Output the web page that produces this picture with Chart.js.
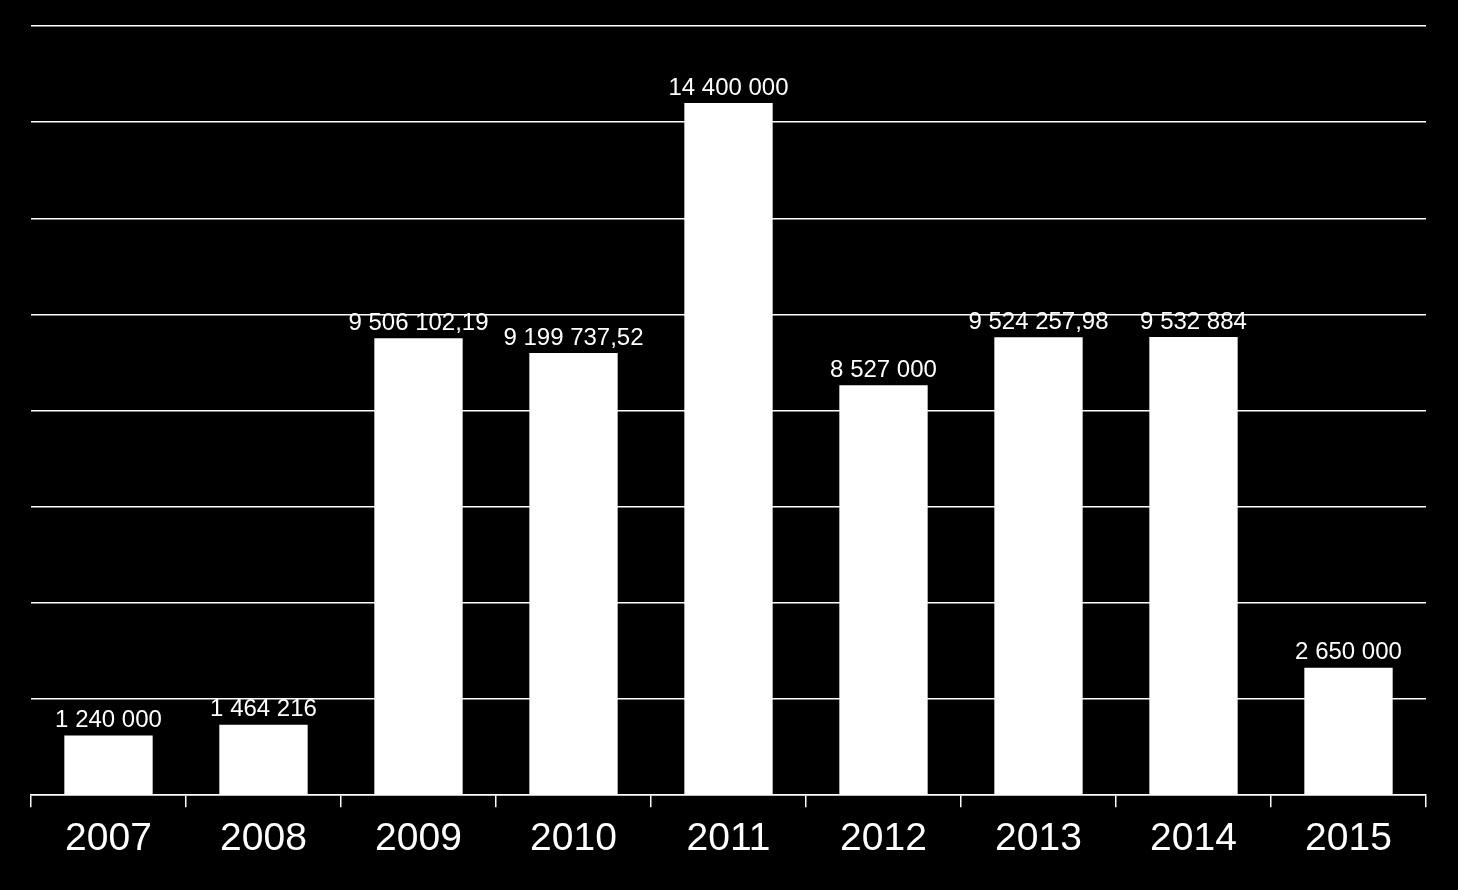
<!DOCTYPE html>
<html>
<head>
<meta charset="utf-8">
<script src="https://cdn.jsdelivr.net/npm/chart.js@4"></script>
<style>
  html, body { margin: 0; padding: 0; background: #000; }
  #wrap { width: 1458px; height: 890px; }
</style>
</head>
<body>
<div id="wrap"><canvas id="barChart" width="1458" height="890"></canvas></div>
<script>
const years = ['2007', '2008', '2009', '2010', '2011', '2012', '2013', '2014', '2015'];
const amounts = [1240000, 1464216, 9506102.19, 9199737.52, 14400000, 8527000, 9524257.98, 9532884, 2650000];
const yMax = 16000000;
const yStep = 2000000;

// 9506102.19 -> "9 506 102,19"
function fmt(v) {
  const parts = v.toFixed(2).split('.');
  const int = parts[0].replace(/\B(?=(\d{3})+(?!\d))/g, ' ');
  return parts[1] === '00' ? int : int + ',' + parts[1];
}

const valueLabels = {
  id: 'valueLabels',
  afterDatasetsDraw(chart) {
    const c = chart.ctx;
    c.save();
    c.fillStyle = '#fff';
    c.font = '24px "Liberation Sans", Arial, sans-serif';
    c.textAlign = 'center';
    c.textBaseline = 'bottom';
    chart.getDatasetMeta(0).data.forEach((bar, i) => {
      c.fillText(fmt(amounts[i]), bar.x, bar.y - 3);
    });
    c.restore();
  }
};

new Chart(document.getElementById('barChart').getContext('2d'), {
  type: 'bar',
  data: {
    labels: years,
    datasets: [{
      data: amounts,
      backgroundColor: '#fff',
      borderWidth: 0,
      categoryPercentage: 1,
      barPercentage: 0.57
    }]
  },
  options: {
    responsive: false,
    animation: false,
    layout: { padding: { left: 31, right: 32, top: 26, bottom: 18 } },
    plugins: { legend: { display: false }, tooltip: { enabled: false } },
    scales: {
      x: {
        grid: { drawOnChartArea: false, drawTicks: true, tickLength: 12, color: '#fff', lineWidth: 1.5 },
        border: { color: '#fff', width: 1.5 },
        ticks: { color: '#fff', padding: 9, font: { size: 39, family: '"Liberation Sans", Arial, sans-serif' } }
      },
      y: {
        min: 0,
        max: yMax,
        ticks: { stepSize: yStep, display: false },
        grid: { color: '#fff', lineWidth: 1.5, drawTicks: false },
        border: { display: false }
      }
    }
  },
  plugins: [valueLabels]
});
</script>
</body>
</html>
